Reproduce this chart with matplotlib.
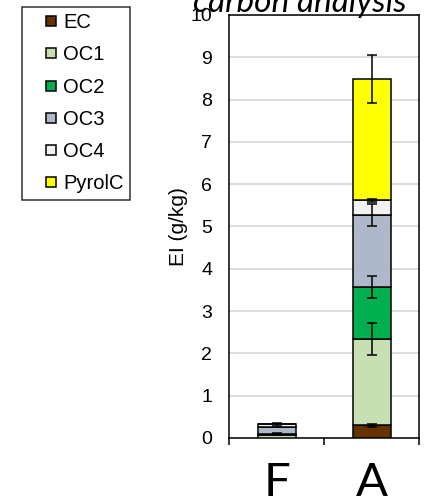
import matplotlib
matplotlib.use("Agg")
import matplotlib.pyplot as plt
from matplotlib.lines import Line2D
import numpy as np

# Stacked fractions (g/kg) for each sample
samples = ["F", "A"]
fractions = ["EC", "OC1", "OC2", "OC3", "OC4", "PyrolC"]
colors = ["#663300", "#C6E0B4", "#00B050", "#ADB9CA", "#F2F2F2", "#FFFF00"]

ec = [0.00, 0.30]
oc1 = [0.08, 2.05]
oc2 = [0.02, 1.22]
oc3 = [0.16, 1.71]
oc4 = [0.06, 0.34]
pyrolc = [0.00, 2.86]

# Standard deviations, drawn at the top of each segment
ec_err = [0.00, 0.03]
oc1_err = [0.00, 0.38]
oc2_err = [0.03, 0.26]
oc3_err = [0.00, 0.26]
oc4_err = [0.04, 0.03]
pyrolc_err = [0.00, 0.57]

values = [ec, oc1, oc2, oc3, oc4, pyrolc]
errors = [ec_err, oc1_err, oc2_err, oc3_err, oc4_err, pyrolc_err]

W, H = 426, 501
fig = plt.figure(figsize=(W / 100, H / 100), dpi=100)
ax = fig.add_axes([229 / W, 1 - 438 / H, 190 / W, 423 / H])

x = np.arange(len(samples))
bottom = np.zeros(len(samples))
for vals, errs, col in zip(values, errors, colors):
    vals = np.array(vals)
    ax.bar(x, vals, width=0.4, bottom=bottom, color=col,
           edgecolor="black", linewidth=1.1, zorder=3)
    tops = bottom + vals
    mask = np.array(errs) > 0
    ax.errorbar(x[mask], tops[mask], yerr=np.array(errs)[mask], fmt="none",
                ecolor="black", elinewidth=1.1, capsize=3.6, capthick=1.1,
                zorder=4)
    bottom = tops

ax.set_xlim(-0.5, 1.5)
ax.set_ylim(0, 10)
ax.set_yticks(range(0, 11))
ax.yaxis.grid(True, color="#D9D9D9", linewidth=1.3, zorder=0)
ax.set_axisbelow(True)

for sp in ax.spines.values():
    sp.set_linewidth(1.1)
    sp.set_color("black")

ax.tick_params(axis="y", length=0, pad=12, labelsize=14)
ax.set_xticks(x)
ax.set_xticklabels(samples, fontsize=34, family="Lato")
ax.tick_params(axis="x", length=0, pad=17)
ax.set_xticks([-0.5, 0.5, 1.5], minor=True)
ax.tick_params(axis="x", which="minor", length=5, width=1.1, direction="out")

for lbl in ax.get_yticklabels():
    lbl.set_family("Liberation Sans")

ax.set_ylabel("EI (g/kg)", fontsize=15, family="Liberation Sans", labelpad=2)

fig.text(300 / W, 1 - 12 / H, "carbon analysis", ha="center", va="baseline",
         fontsize=24, style="italic", family="Lato")

handles = [Line2D([], [], linestyle="none", marker="s", markersize=7.2,
                  markerfacecolor=c, markeredgecolor="black",
                  markeredgewidth=1.1) for c in colors]
leg = fig.legend(handles, fractions, loc="upper left",
                 bbox_to_anchor=(22 / W, 1 - 7 / H),
                 prop={"family": "Liberation Sans", "size": 14.5},
                 frameon=True, fancybox=False, edgecolor="black",
                 handlelength=2.3, handletextpad=-0.55,
                 labelspacing=0.66, borderpad=0.3, borderaxespad=0)
leg.get_frame().set_linewidth(1.1)

fig.savefig("out.png", dpi=100)
